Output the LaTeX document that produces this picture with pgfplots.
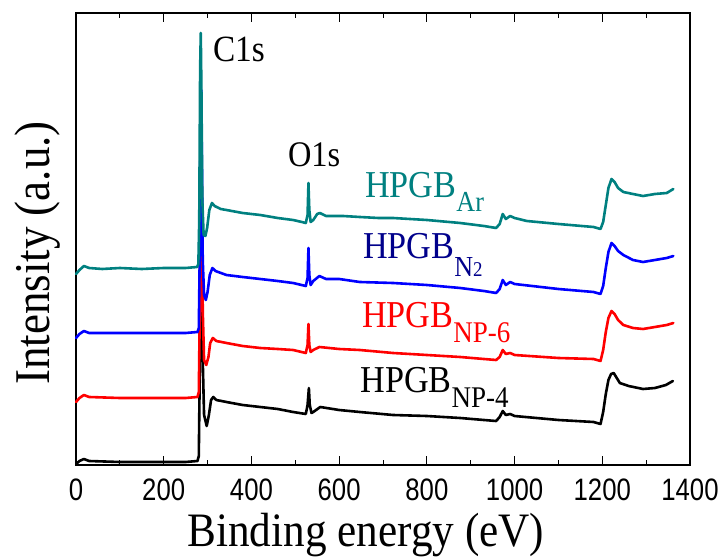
\documentclass[border=0pt]{standalone}
\usepackage{fontspec}
\setmainfont{Liberation Serif}[FakeStretch=0.9]
\newfontfamily\tickfont{Liberation Sans}[FakeStretch=0.83]
\usepackage{pgfplots}
\pgfplotsset{compat=1.18}
\definecolor{tealc}{RGB}{0,128,128}
\definecolor{navyc}{RGB}{0,0,139}
\definecolor{bluec}{RGB}{0,0,255}
\definecolor{redc}{RGB}{255,0,0}
\begin{document}
\begin{tikzpicture}
\useasboundingbox (-76bp,-94bp) rectangle (650bp,465bp);
\begin{axis}[
  scale only axis, width=614bp, height=452bp,
  xmin=0, xmax=1400, ymin=-5, ymax=447,
  xtick={0,200,400,600,800,1000,1200,1400},
  minor xtick={100,300,500,700,900,1100,1300},
  ytick=\empty,
  minor ytick={27.29,59.57,91.86,124.14,156.43,188.71,221.0,253.29,285.57,317.86,350.14,382.43,414.71},
  tick align=inside, major tick length=9bp, minor tick length=5bp,
  axis line style={line width=1.2bp},
  every tick/.style={line width=1bp, black},
  /pgf/number format/assume math mode=true,
  /pgf/number format/1000 sep={},
  xticklabel style={font=\tickfont\fontsize{31bp}{31bp}\selectfont, inner sep=0pt, yshift=-14bp},
  xlabel={Binding energy (eV)},
  xlabel style={at={(axis description cs:0.472,-0.181)}, anchor=base, inner sep=0pt, font=\fontsize{48bp}{48bp}\selectfont},
  ylabel={Intensity (a.u.)},
  ylabel style={at={(axis description cs:-0.062,0.469)}, anchor=center, inner sep=0pt, font=\fontsize{50bp}{50bp}\selectfont},
  clip=false,
  every axis plot/.append style={line width=2.6bp, line join=round, line cap=round, mark=none},
]
% HPGB NP-4 (black)
\addplot[black] coordinates {
(0,-4) (8,-1) (18,1) (30,-1) (100,-2) (200,-2) (250,-2) (277,-1) (280,4) (282,80) (284,230) (285.5,260) (287,200) (289,100) (292,45) (298,34) (303,45) (308,60) (313,63) (320,60) (343,58) (380,55) (420,53) (460,51) (495,48) (524,46) (528,55) (531,72) (533,55) (537,47) (541,48) (557,53) (600,50) (647,48) (723,45) (800,44) (876,42) (930,40) (958,39) (966,43) (973,49) (980,45) (990,46) (1000,44) (1100,40) (1180,38) (1196,36) (1202,48) (1208,66) (1214,80) (1220,86) (1226,87) (1233,82) (1240,77) (1260,74) (1293,71) (1320,72) (1345,75) (1361,79)
};
% HPGB NP-6 (red)
\addplot[redc] coordinates {
(0,58) (8,62) (18,65) (30,63) (100,62) (200,62) (250,62) (277,63) (280,68) (282,140) (284,290) (285.5,320) (287,260) (289,150) (292,100) (297,95) (302,103) (306,117) (312,122) (320,119) (343,117) (380,114) (420,112) (460,111) (495,110) (524,107) (528,115) (530,136) (532,115) (535,108) (541,110) (555,113) (600,111) (647,110) (723,107) (800,105) (876,103) (930,101) (958,100) (966,103) (973,110) (980,106) (990,107) (1000,105) (1100,102) (1180,101) (1196,99) (1202,110) (1208,128) (1214,142) (1221,149) (1228,146) (1236,140) (1248,135) (1270,132) (1293,131) (1320,133) (1347,135) (1362,137)
};
% HPGB N2 (blue)
\addplot[bluec] coordinates {
(0,122) (8,126) (18,129) (30,127) (100,127) (200,127) (250,127) (277,128) (280,132) (282,200) (284,340) (285.5,370) (287,300) (289,200) (292,165) (296,160) (300,168) (305,185) (311,192) (318,189) (343,185) (380,183) (420,181) (460,179) (495,177) (524,174) (528,182) (530,212) (532,185) (535,175) (541,179) (555,184) (570,181) (600,181) (647,178) (723,177) (800,175) (876,172) (930,169) (958,167) (966,171) (973,180) (980,175) (990,178) (1000,176) (1100,171) (1180,168) (1196,166) (1202,174) (1208,192) (1214,208) (1221,217) (1228,214) (1236,209) (1248,205) (1270,200) (1293,198) (1320,200) (1347,202) (1362,204)
};
% HPGB Ar (teal)
\addplot[tealc] coordinates {
(0,186) (8,190) (18,194) (30,192) (60,191) (100,192) (150,191) (200,192) (250,192) (276,193) (279,196) (281,240) (283,390) (284.5,427) (286,370) (288,260) (291,225) (295,224) (299,232) (304,250) (310,257) (316,254) (330,251) (343,250) (380,247) (420,245) (460,242) (495,240) (515,238) (524,237) (528,245) (530,277) (532,250) (535,238) (541,240) (550,246) (556,247) (570,244) (609,244) (647,243) (690,242) (723,242) (800,240) (876,237) (930,234) (958,232) (966,236) (973,246) (980,241) (990,244) (1000,242) (1028,239) (1100,236) (1180,233) (1196,231) (1202,238) (1208,255) (1214,272) (1221,281) (1228,278) (1236,272) (1248,268) (1270,266) (1293,264) (1320,266) (1347,267) (1362,271)
};
\node[anchor=base west, inner sep=0pt, font=\fontsize{37bp}{37bp}\selectfont] at (axis cs:312,398) {C1s};
\node[anchor=base west, inner sep=0pt, font=\fontsize{36bp}{36bp}\selectfont] at (axis cs:483,293) {O1s};
\node[anchor=base west, inner sep=0pt, text=tealc, font=\fontsize{38bp}{38bp}\selectfont] at (axis cs:659,262) {HPGB\raisebox{-14bp}{\fontsize{29bp}{29bp}\selectfont Ar}};
\node[anchor=base west, inner sep=0pt, text=navyc, font=\fontsize{38bp}{38bp}\selectfont] at (axis cs:654,201) {HPGB\raisebox{-18bp}{\fontsize{29bp}{29bp}\selectfont N\fontsize{21bp}{21bp}\selectfont 2}};
\node[anchor=base west, inner sep=0pt, text=redc, font=\fontsize{38bp}{38bp}\selectfont] at (axis cs:652,132) {HPGB\raisebox{-15bp}{\fontsize{30bp}{30bp}\selectfont NP-6}};
\node[anchor=base west, inner sep=0pt, text=black, font=\fontsize{38bp}{38bp}\selectfont] at (axis cs:648,68) {HPGB\raisebox{-15bp}{\fontsize{30bp}{30bp}\selectfont NP-4}};
\end{axis}
\end{tikzpicture}
\end{document}
